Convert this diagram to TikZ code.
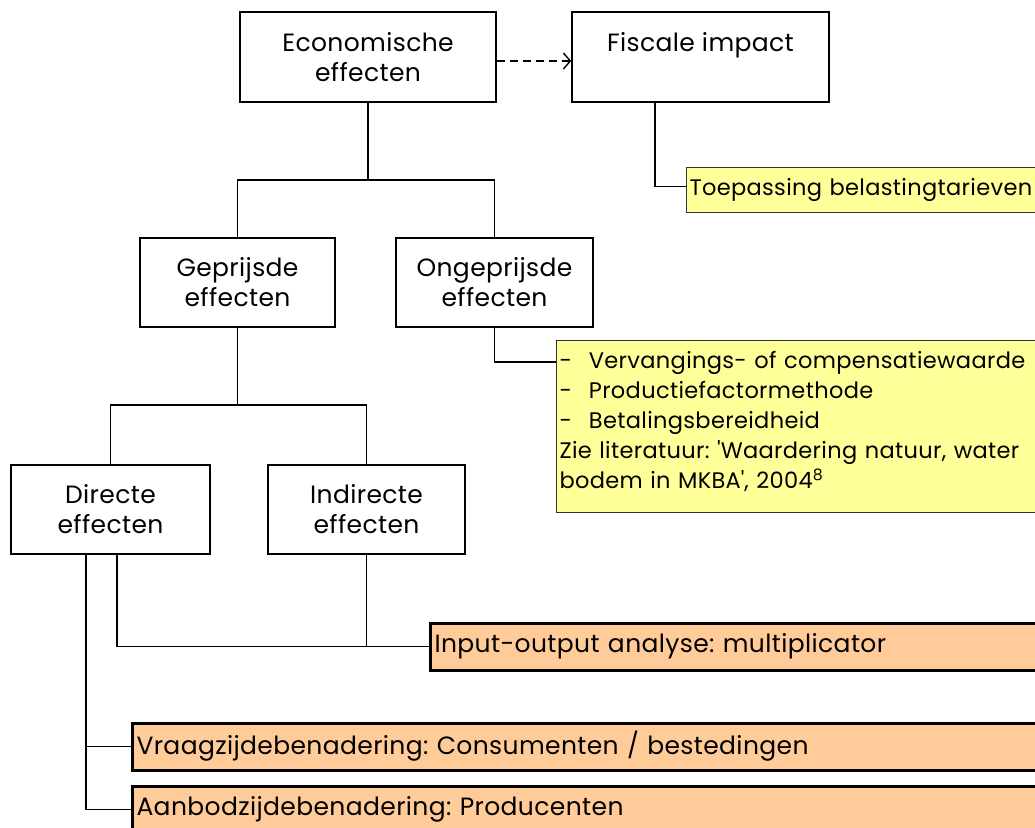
\documentclass[tikz,border=0pt]{standalone}
\usepackage{fontspec}
\setmainfont{Poppins}[LetterSpace=1.5]
\usetikzlibrary{arrows.meta}
\definecolor{yel}{HTML}{FFFF99}
\definecolor{ora}{HTML}{FFCC99}
\frenchspacing
\tikzset{
  box/.style={draw=black, line width=1.4pt, fill=white, align=center, font=\fontsize{25}{30}\selectfont},
  note/.style={draw=black!80, line width=1pt, fill=yel, align=left, inner xsep=3pt, inner ysep=0pt, font=\fontsize{22.5}{30}\selectfont},
  meth/.style={draw=black, line width=3pt, fill=ora, anchor=west, align=left, inner xsep=4pt, inner ysep=0pt, minimum height=47pt, font=\fontsize{25}{30}\selectfont},
  conn/.style={line width=1.4pt, black},
}
\begin{document}
\begin{tikzpicture}[x=1pt,y=-1pt]
\useasboundingbox (0,0) rectangle (1035,827);
\clip (0,0) rectangle (1035,827);
\node[box, minimum width=256pt, minimum height=90pt] (econ) at (368,57) {Economische\\effecten};
\node[box, minimum width=257pt, minimum height=90pt] (fisc) at (700.5,57) {Fiscale impact\\\vphantom{effecten}};
\node[box, minimum width=195pt, minimum height=89pt] (gep) at (237.5,282.5) {Geprijsde\\effecten};
\node[box, minimum width=197pt, minimum height=89pt] (ongep) at (494.5,282.5) {Ongeprijsde\\effecten};
\node[box, minimum width=199pt, minimum height=89pt] (dir) at (110.5,509.5) {Directe\\effecten};
\node[box, minimum width=197pt, minimum height=89pt] (ind) at (366.5,509.5) {Indirecte\\effecten};

\node[note, anchor=west, minimum height=45pt, text width=360pt] (toep) at (686,189.5) {Toepassing belastingtarieven};
\node[note, anchor=north west, text height=28pt, text depth=144pt, text width=480pt] (lit) at (556,340) {%
-\hspace{17pt}Vervangings- of compensatiewaarde\\
-\hspace{17pt}Productiefactormethode\\
-\hspace{17pt}Betalingsbereidheid\\
Zie literatuur: \textquotesingle Waardering natuur, water\\
bodem in MKBA\textquotesingle, 2004\textsuperscript{8}};

\node[meth, text width=600pt] (inp) at (429,646.5) {Input-output analyse: multiplicator};
\node[meth, text width=900pt] (vraag) at (131,746.5) {Vraagzijdebenadering: Consumenten / bestedingen};
\node[meth, text width=900pt] (aanb) at (131,809.5) {Aanbodzijdebenadering: Producenten};

\draw[conn, dash pattern=on 8pt off 5pt, -{Straight Barb[length=7pt,width=16pt,line width=1.4pt]}] ([yshift=-4pt]econ.east) -- ([yshift=-4pt]fisc.west);
\draw[conn] (econ.south) -- (econ.south |- 0,180) -| (gep.north);
\draw[conn] (econ.south |- 0,180) -| (ongep.north);
\draw[conn] ([xshift=-45.5pt]fisc.south) |- ([yshift=3pt]toep.west);
\draw[conn] (ongep.south) |- ([yshift=-22pt]lit.north west);
\draw[conn] (gep.south) -- (gep.south |- 0,405) -| (dir.north);
\draw[conn] (gep.south |- 0,405) -| (ind.north);
\draw[conn] ([xshift=6.5pt]dir.south) |- (inp.west);
\draw[conn] (ind.south) -- (ind.south |- inp.west);
\draw[conn] ([xshift=-24.5pt]dir.south) |- (aanb.west);
\draw[conn] ([xshift=-24.5pt]dir.south |- vraag.west) -- (vraag.west);
\end{tikzpicture}
\end{document}
